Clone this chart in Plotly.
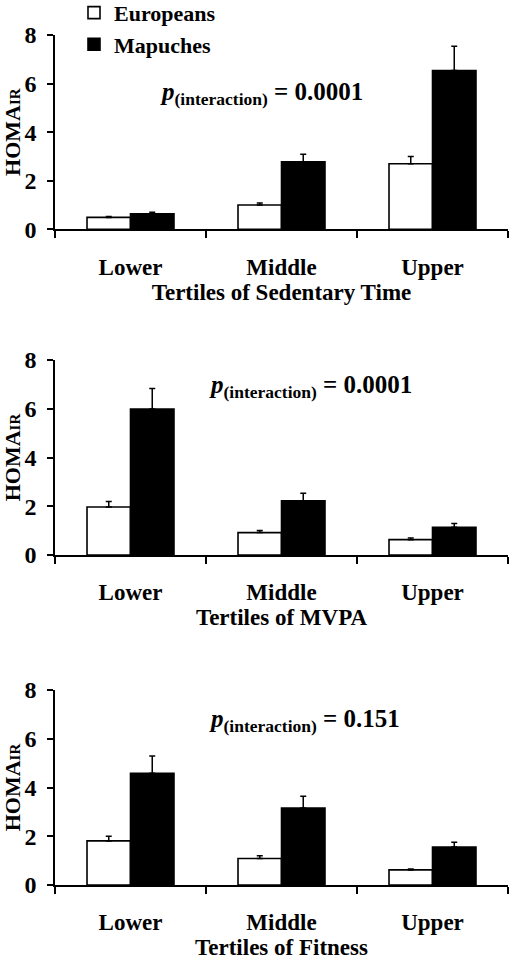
import plotly.graph_objects as go

categories = ["Lower", "Middle", "Upper"]
series_names = ["Europeans", "Mapuches"]

sed_eur = [0.49, 1.00, 2.70]
sed_eur_err = [0.04, 0.08, 0.30]
sed_map = [0.64, 2.78, 6.54]
sed_map_err = [0.06, 0.31, 1.00]

mvpa_eur = [1.97, 0.92, 0.63]
mvpa_eur_err = [0.22, 0.09, 0.07]
mvpa_map = [5.99, 2.22, 1.14]
mvpa_map_err = [0.84, 0.31, 0.15]

fit_eur = [1.81, 1.09, 0.62]
fit_eur_err = [0.19, 0.11, 0.04]
fit_map = [4.58, 3.16, 1.56]
fit_map_err = [0.71, 0.48, 0.19]

panel_titles = ["Tertiles of Sedentary Time", "Tertiles of MVPA", "Tertiles of Fitness"]
p_values = ["0.0001", "0.0001", "0.151"]
y_ticks = [0, 2, 4, 6, 8]

panels = [
    (sed_eur, sed_eur_err, sed_map, sed_map_err),
    (mvpa_eur, mvpa_eur_err, mvpa_map, mvpa_map_err),
    (fit_eur, fit_eur_err, fit_map, fit_map_err),
]

W, H = 514, 960
FONT = "Liberation Serif"
panel_px = [(35, 229.3), (360, 555), (690, 885)]
p_px = [(158, 93), (207, 387), (207, 720)]
L, R = 55, 6


def bf(size):
    return dict(family=FONT, size=size, color="black", weight="bold")


fig = go.Figure()
layout = dict(
    width=W, height=H,
    margin=dict(l=L, r=R, t=0, b=0, autoexpand=False),
    paper_bgcolor="white", plot_bgcolor="white",
    barmode="group", bargap=0.424, bargroupgap=0,
    font=dict(family=FONT, color="black", size=20),
    showlegend=True,
    legend=dict(x=(74 - L) / (W - L - R), y=1.0085, xanchor="left", yanchor="top",
                font=bf(22), bgcolor="rgba(0,0,0,0)", tracegroupgap=0,
                traceorder="grouped", itemwidth=30),
)
annotations = []

for i, (eur, eur_err, mp, mp_err) in enumerate(panels):
    sfx = "" if i == 0 else str(i + 1)
    xa, ya = "x" + sfx, "y" + sfx
    fig.add_trace(go.Bar(
        x=categories, y=eur, name=series_names[0], xaxis=xa, yaxis=ya,
        marker=dict(color="white", line=dict(color="black", width=1.6)),
        error_y=dict(type="data", symmetric=False, array=eur_err, arrayminus=[0] * 3,
                     color="black", thickness=1.5, width=3),
        showlegend=(i == 0), legendgroup="eur",
    ))
    fig.add_trace(go.Bar(
        x=categories, y=mp, name=series_names[1], xaxis=xa, yaxis=ya,
        marker=dict(color="black", line=dict(color="black", width=1.6)),
        error_y=dict(type="data", symmetric=False, array=mp_err, arrayminus=[0] * 3,
                     color="black", thickness=1.5, width=3),
        showlegend=(i == 0), legendgroup="map",
    ))
    top, bot = panel_px[i]
    dom = [1 - bot / H, 1 - top / H]
    layout["xaxis" + sfx] = dict(
        domain=[0, 1], anchor=ya, type="category", categoryorder="array",
        categoryarray=categories, tickson="boundaries", ticks="outside",
        ticklen=7, tickwidth=1.5, tickcolor="black", showline=True,
        linecolor="black", linewidth=1.5, showgrid=False, zeroline=False,
        tickfont=bf(23), ticklabelstandoff=16,
        title=dict(text=panel_titles[i], standoff=1, font=bf(23)),
        range=[-0.5, 2.5], fixedrange=True,
    )
    layout["yaxis" + sfx] = dict(
        domain=dom, anchor=xa, range=[0, 8], tickvals=y_ticks,
        ticks="outside", ticklen=6, tickwidth=1.5, tickcolor="black",
        showline=True, linecolor="black", linewidth=1.5, showgrid=False,
        zeroline=False, tickfont=bf(24), ticklabelstandoff=6,
        title=dict(text="HOMA<span style='font-size:15px'>IR</span>",
                   standoff=4, font=bf(22)),
        fixedrange=True,
    )
    px, py = p_px[i]
    annotations.append(dict(
        xref="paper", yref="paper", x=(px - L) / (W - L - R), y=1 - py / H,
        xanchor="left", yanchor="middle", showarrow=False,
        text="<i>p</i><sub>(interaction)</sub> = " + p_values[i],
        font=bf(25),
    ))

fig.update_layout(**layout)
fig.update_layout(annotations=annotations)

fig.write_html("out.html", config={"displayModeBar": False},
               post_script="document.body.style.margin='0';")
